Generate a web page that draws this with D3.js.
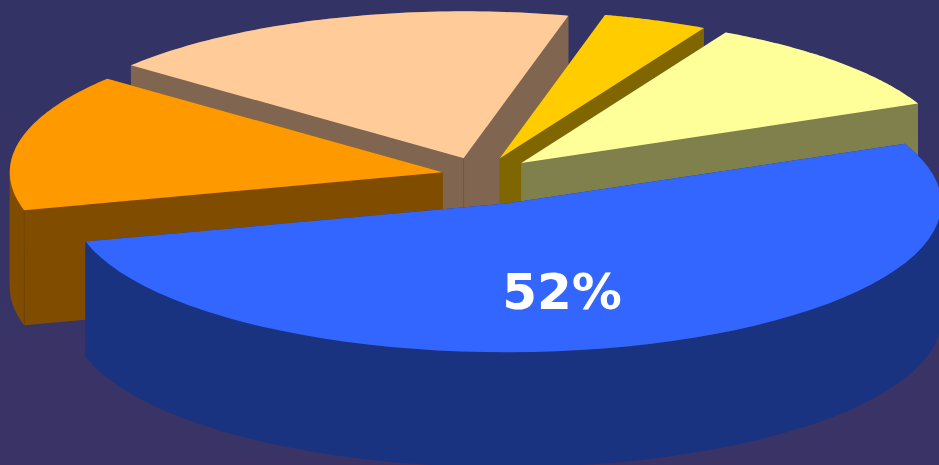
<!DOCTYPE html>
<html>
<head>
<meta charset="utf-8">
<script src="https://cdn.jsdelivr.net/npm/d3@7"></script>
<style>
html,body{margin:0;padding:0;overflow:hidden;background:#333366}
svg{display:block}
</style>
</head>
<body>
<svg id="chart" width="939" height="465"></svg>
<script>
const categories = ["Gold", "Yellow", "Blue", "Orange", "Peach"];
const values = [3.9, 10.6, 52.4, 15, 18];
const labels = ["", "", "52%", "", ""];
const topColors = ["#ffcc00", "#ffff99", "#3366ff", "#ff9900", "#ffcc99"];
const sideColors = ["#806600", "#80804d", "#193380", "#804d00", "#806650"];
const explodeX = [0.125, 0.13, 0.184, 0.088, 0.12];
const explodeY = [0.12, 0.12, 0.204, 0.086, 0.12];
const rimScale = [1, 1, 1.005, 1, 0.992];
const drawOrder = [4, 0, 1, 3, 2];
const apexCrease = ["Peach"];
const rimCrease = ["Orange"];

const W = 939, H = 465, cx = 480, cy = 175, rx = 433, ry = 148, depth = 115;
const svg = d3.select("#chart");

const defs = svg.append("defs");
const grad = defs.append("linearGradient").attr("id", "bg").attr("x1", 0).attr("y1", 0).attr("x2", 0).attr("y2", 1);
grad.append("stop").attr("offset", 0).attr("stop-color", "#333366");
grad.append("stop").attr("offset", 1).attr("stop-color", "#3b3366");
svg.append("rect").attr("width", W).attr("height", H).attr("fill", "url(#bg)");

const pie = d3.pie().value(d => d).sort(null)
  .startAngle(14.1 * Math.PI / 180)
  .endAngle((14.1 + 360) * Math.PI / 180);
const arcs = pie(values);

// projected pie plane: unit circle -> ellipse
const sx = d3.scaleLinear().domain([-1, 1]).range([-rx, rx]);
const sy = d3.scaleLinear().domain([-1, 1]).range([-ry, ry]);
const line = d3.line().x(p => p[0]).y(p => p[1]);

function project(a, r, ox, oy, dz) {
  return [cx + ox + sx(Math.sin(a) * r), cy + oy + sy(-Math.cos(a) * r) + dz];
}

// split a rim at its left/right extremes, so each wall piece is a simple polygon
function monotoneRuns(pts) {
  const runs = [];
  let from = 0;
  for (let k = 1; k < pts.length - 1; k++) {
    if ((pts[k][0] - pts[k - 1][0]) * (pts[k + 1][0] - pts[k][0]) < 0) {
      runs.push([from, k]);
      from = k;
    }
  }
  runs.push([from, pts.length - 1]);
  return runs;
}

drawOrder.forEach(i => {
  const d = arcs[i];
  const mid = (d.startAngle + d.endAngle) / 2;
  const ox = sx(Math.sin(mid) * explodeX[i]);
  const oy = sy(-Math.cos(mid) * explodeY[i]);
  const steps = d3.range(0, 61).map(k => d.startAngle + (d.endAngle - d.startAngle) * k / 60);
  const rimTop = steps.map(a => project(a, rimScale[i], ox, oy, 0));
  const rimBot = steps.map(a => project(a, rimScale[i], ox, oy, depth));
  const apex = project(0, 0, ox, oy, 0);
  const apexBot = project(0, 0, ox, oy, depth);
  const g = svg.append("g").attr("class", "slice").attr("data-name", categories[i]);

  // outer wall
  monotoneRuns(rimTop).forEach(([a, b]) => {
    const pts = rimTop.slice(a, b + 1).concat(rimBot.slice(a, b + 1).reverse());
    g.append("path").attr("d", line(pts) + "Z").attr("fill", sideColors[i]);
  });
  // cut faces
  [[rimTop[0], rimBot[0]], [rimTop[60], rimBot[60]]].forEach(e => {
    g.append("path").attr("d", line([apex, e[0], e[1], apexBot]) + "Z").attr("fill", sideColors[i]);
  });
  // faint vertical creases on the visible corners
  const crease = d3.color(sideColors[i]).darker(0.4).formatHex();
  if (apexCrease.includes(categories[i])) {
    g.append("path").attr("d", line([apex, apexBot])).attr("stroke", crease).attr("stroke-width", 0.8).attr("fill", "none");
  }
  if (rimCrease.includes(categories[i])) {
    g.append("path").attr("d", line([rimTop[0], rimBot[0]])).attr("stroke", crease).attr("stroke-width", 0.8).attr("fill", "none");
  }
  // top face
  g.append("path").attr("d", line([apex].concat(rimTop)) + "Z").attr("fill", topColors[i]);
});

svg.append("text")
  .attr("x", 562).attr("y", 309)
  .attr("text-anchor", "middle")
  .attr("font-family", "'DejaVu Sans', sans-serif")
  .attr("font-weight", "bold")
  .attr("font-size", 50)
  .attr("fill", "#ffffff")
  .text(labels[2]);
</script>
</body>
</html>
